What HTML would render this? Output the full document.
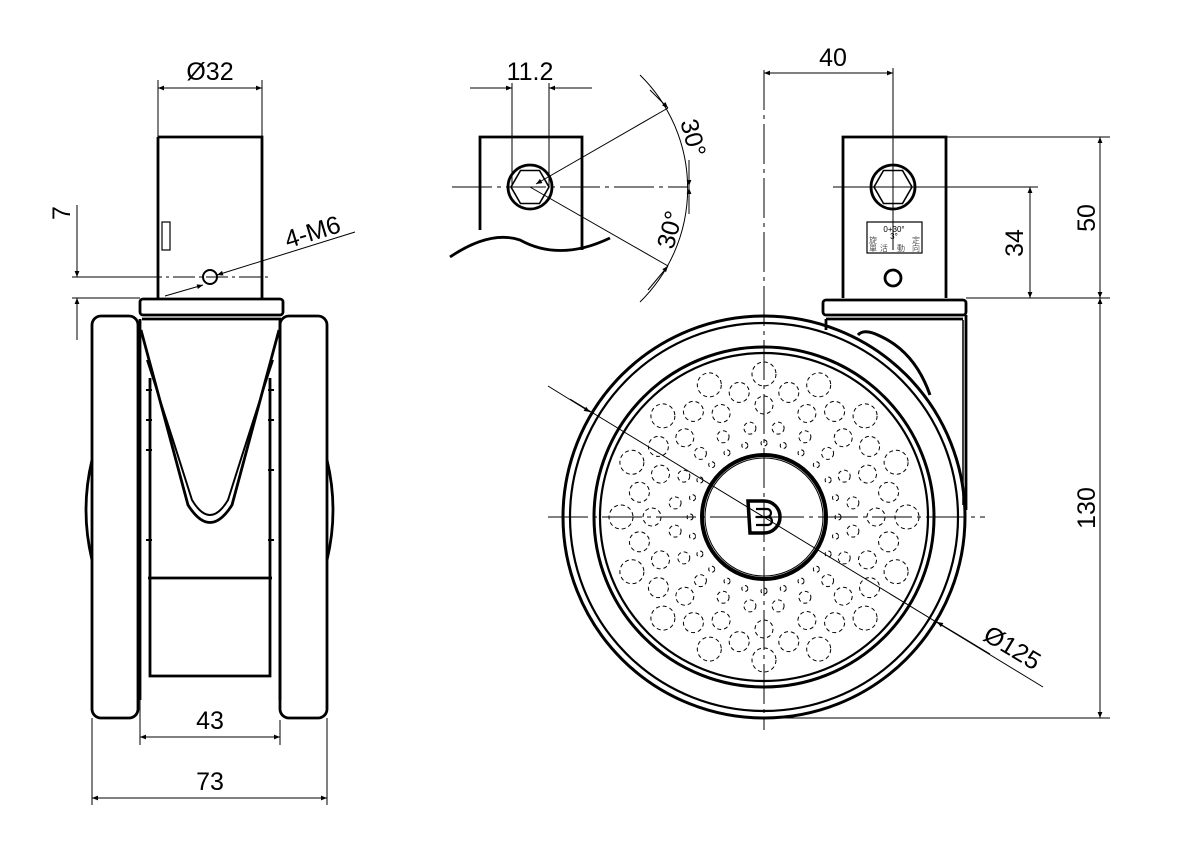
<!DOCTYPE html>
<html><head><meta charset="utf-8"><style>
html,body{margin:0;padding:0;background:#fff;}
svg{display:block;}
text{font-family:"Liberation Sans","Noto Sans CJK SC",sans-serif;font-weight:300;fill:#000;}
</style></head><body>
<svg id="s" width="1192" height="856" viewBox="0 0 1192 856" xmlns="http://www.w3.org/2000/svg">
<defs>
<marker id="a" viewBox="0 0 10 10" refX="10" refY="5" markerWidth="14" markerHeight="6" markerUnits="userSpaceOnUse" orient="auto-start-reverse"><path d="M0,1 L10,5 L0,9z" fill="#000"/></marker>
</defs>
<g fill="none" stroke="#000">
<!-- ========== LEFT VIEW ========== -->
<g stroke-width="2.8">
<path d="M158,137 L262,137 L262,298 M158,137 L158,298"/>
<rect x="140" y="299" width="143" height="16" rx="3"/>
<line x1="142" y1="319" x2="281" y2="319"/>
<rect x="92" y="316" width="46" height="402" rx="9"/>
<rect x="280" y="316" width="47" height="402" rx="9"/>
<path d="M92,460 Q80,510 92,560 M327,460 Q339,510 327,560"/>
<line x1="140" y1="319" x2="140" y2="700"/>
<line x1="280" y1="319" x2="280" y2="700"/>
<path d="M148,578 L272,578 M150,378 L150,676 L270,676 L270,378"/>
<path d="M141,330 Q165,420 188,505 Q210,540 232,505 Q255,420 279,330"/>
<path d="M147,360 Q170,430 192,500 Q210,530 228,500 Q250,430 273,360" stroke-width="2"/>
</g>
<rect x="162" y="222" width="8" height="28" stroke-width="1.2"/>
<path d="M146,390 h6 M146,420 h6 M146,450 h6 M268,390 h6 M268,420 h6 M268,470 h6 M146,540 h6 M268,540 h6" stroke-width="2"/>
<circle cx="210" cy="277" r="7" stroke-width="2"/>
<line x1="140" y1="277" x2="270" y2="277" stroke-width="1" stroke-dasharray="22,4,3,4"/>
<!-- dims left -->
<g stroke-width="1">
<line x1="158" y1="80" x2="158" y2="137"/><line x1="262" y1="80" x2="262" y2="137"/>
<line x1="158" y1="88" x2="262" y2="88" marker-start="url(#a)" marker-end="url(#a)"/>
<line x1="72" y1="277" x2="160" y2="277"/><line x1="72" y1="298" x2="140" y2="298"/>
<line x1="77" y1="205" x2="77" y2="277" marker-end="url(#a)"/>
<line x1="77" y1="340" x2="77" y2="298" marker-end="url(#a)"/>
<line x1="355" y1="232" x2="217" y2="275" marker-end="url(#a)"/>
<line x1="165" y1="296" x2="203" y2="285" marker-end="url(#a)"/>
<line x1="140" y1="680" x2="140" y2="745"/><line x1="280" y1="720" x2="280" y2="745"/>
<line x1="140" y1="737" x2="280" y2="737" marker-start="url(#a)" marker-end="url(#a)"/>
<line x1="92" y1="718" x2="92" y2="805"/><line x1="327" y1="718" x2="327" y2="805"/>
<line x1="92" y1="798" x2="327" y2="798" marker-start="url(#a)" marker-end="url(#a)"/>
</g>
<!-- ========== MIDDLE DETAIL ========== -->
<g stroke-width="2.8">
<path d="M480,230 L480,137 L582,137 L582,250"/>
<path d="M450,257 Q490,230 520,240 Q560,262 610,238"/>
<circle cx="530" cy="187" r="22"/>
<polygon points="549,187 539.5,203.5 520.5,203.5 511,187 520.5,170.5 539.5,170.5" stroke-width="1.6"/>
</g>
<g stroke-width="1">
<line x1="452" y1="187" x2="690" y2="187" stroke-dasharray="40,5,4,5"/>
<line x1="512" y1="83" x2="512" y2="187"/><line x1="549" y1="83" x2="549" y2="187"/>
<line x1="470" y1="88" x2="512" y2="88" marker-end="url(#a)"/>
<line x1="592" y1="88" x2="549" y2="88" marker-end="url(#a)"/>
<line x1="668" y1="108" x2="536" y2="184" marker-end="url(#a)"/>
<line x1="530" y1="187" x2="668" y2="266"/>
<path d="M640,75 A159,159 0 0 1 640,302"/>
<line x1="650" y1="90" x2="668" y2="108" marker-end="url(#a)"/>
<line x1="689" y1="160" x2="689" y2="186" marker-end="url(#a)"/>
<line x1="689" y1="214" x2="689" y2="188" marker-end="url(#a)"/>
<line x1="648" y1="290" x2="668" y2="266" marker-end="url(#a)"/>
</g>
<!-- ========== RIGHT VIEW ========== -->
<g stroke-width="2.8">
<path d="M843,298 L843,137 L946,137 L946,298"/>
<rect x="823" y="300" width="143" height="15" rx="3"/>
<line x1="826" y1="319" x2="963" y2="319"/>
<line x1="826" y1="319" x2="826" y2="330"/>
<line x1="966" y1="315" x2="966" y2="510"/>
<circle cx="893" cy="187" r="22"/>
<polygon points="912,187 902.5,203.5 883.5,203.5 874,187 883.5,170.5 902.5,170.5" stroke-width="1.6"/>
<circle cx="893" cy="278" r="8"/>
<path d="M858,335 Q864,328 880,336 Q915,352 930,395" stroke-width="3"/>
</g>
<line x1="963" y1="320" x2="963" y2="505" stroke-width="1.5"/>
<rect x="867" y="222" width="55" height="31" stroke-width="1.2"/>
<!-- wheel -->
<g stroke-width="3">
<circle cx="764" cy="517" r="201"/>
<circle cx="764" cy="517" r="194" stroke-width="2.2"/>
<circle cx="764" cy="517" r="170"/>
<circle cx="764" cy="517" r="164" stroke-width="2.2"/>
<circle cx="764" cy="517" r="62" stroke-width="4"/>
</g>
<circle cx="764" cy="517" r="59" stroke-width="1"/>
<g id="holes" stroke-width="1" stroke-dasharray="4,3"></g>
<g stroke-width="1">
<line x1="764" y1="70" x2="764" y2="730" stroke-dasharray="40,5,4,5"/>
<line x1="548" y1="517" x2="985" y2="517" stroke-dasharray="40,5,4,5"/>
<line x1="833" y1="187" x2="960" y2="187"/>
<line x1="893" y1="125" x2="893" y2="250"/>
<line x1="893" y1="68" x2="893" y2="137"/>
<line x1="764" y1="73" x2="893" y2="73" marker-start="url(#a)" marker-end="url(#a)"/>
<line x1="946" y1="137" x2="1110" y2="137"/>
<line x1="966" y1="298" x2="1110" y2="298"/>
<line x1="940" y1="187" x2="1038" y2="187"/>
<line x1="764" y1="718" x2="1110" y2="718"/>
<line x1="1100" y1="137" x2="1100" y2="298" marker-start="url(#a)" marker-end="url(#a)"/>
<line x1="1100" y1="298" x2="1100" y2="718" marker-start="url(#a)" marker-end="url(#a)"/>
<line x1="1030" y1="187" x2="1030" y2="298" marker-start="url(#a)" marker-end="url(#a)"/>
<line x1="570" y1="399" x2="1043" y2="687"/>
<line x1="548" y1="386" x2="590" y2="412" marker-end="url(#a)"/>
<line x1="990" y1="654" x2="937" y2="622" marker-end="url(#a)"/>
</g>
</g>
<!-- logo -->
<g fill="none" stroke="#000" stroke-width="3.5">
<path d="M748,501 L764,501 A16,16 0 0 1 764,533 L750,533 Z"/>
<path d="M756,509 L767,509 A4,4 0 0 1 767,517 L756,517 M756,517 L768,517 A4,4 0 0 1 768,525 L756,525" stroke-width="2.2"/>
</g>
<!-- texts -->
<g font-size="25">
<text x="210" y="80" text-anchor="middle">Ø32</text>
<text x="210" y="729" text-anchor="middle">43</text>
<text x="210" y="790" text-anchor="middle">73</text>
<text x="530" y="80" text-anchor="middle">11.2</text>
<text x="833" y="66" text-anchor="middle">40</text>
<text transform="translate(70,213) rotate(-90)" text-anchor="middle">7</text>
<text transform="translate(315,240) rotate(-17)" text-anchor="middle">4-M6</text>
<text transform="translate(1095,218) rotate(-90)" text-anchor="middle">50</text>
<text transform="translate(1023,243) rotate(-90)" text-anchor="middle">34</text>
<text transform="translate(1095,508) rotate(-90)" text-anchor="middle">130</text>
<text transform="translate(1008,655) rotate(31)" text-anchor="middle">Ø125</text>
<text transform="translate(685,140) rotate(75)" text-anchor="middle">30°</text>
<text transform="translate(678,232) rotate(-75)" text-anchor="middle">30°</text>
</g>
<g font-size="8" font-weight="400">
<text x="894" y="232" text-anchor="middle">0+30°</text>
<text x="894" y="239" text-anchor="middle">3°</text>
<text x="869" y="243">旋</text><text x="869" y="251">單</text>
<text x="880" y="251">活</text><text x="897" y="251">動</text>
<text x="912" y="243">定</text><text x="912" y="251">向</text>
</g>
</svg>
<script>
var g=document.getElementById('holes'),cx=764,cy=517,h='';
var rings=[[74,3,24,0],[90,6,20,0.5],[112,9,16,0],[127,10,16,0.5],[143,12,16,0]];
rings.forEach(function(r){for(var i=0;i<r[2];i++){var t=(i+r[3])*2*Math.PI/r[2];
h+='<circle cx="'+(cx+r[0]*Math.cos(t)).toFixed(1)+'" cy="'+(cy+r[0]*Math.sin(t)).toFixed(1)+'" r="'+r[1]+'"/>';}});
g.innerHTML=h;
</script>
</body></html>
